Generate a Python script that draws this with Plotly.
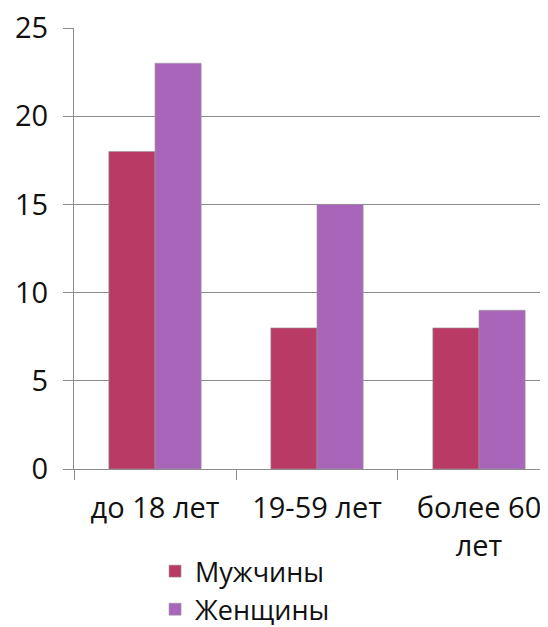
import plotly.graph_objects as go

categories = ["до 18 лет", "19-59 лет", "более 60<br>лет"]
men = [18, 8, 8]
women = [23, 15, 9]
series_names = ["Мужчины", "Женщины"]
y_ticks = [0, 5, 10, 15, 20, 25]

# page body has an 8px margin, so the figure is sized/offset to compensate
W, H = 540, 619
L, R, T, B = 66, 0, 20, 158

fig = go.Figure()
fig.add_trace(go.Bar(x=categories, y=men, name=series_names[0],
                     marker=dict(color="#B93B65", line=dict(color="#9a9a9a", width=0.6))))
fig.add_trace(go.Bar(x=categories, y=women, name=series_names[1],
                     marker=dict(color="#A865BA", line=dict(color="#9a9a9a", width=0.6))))

font = dict(family="Open Sans, DejaVu Sans, sans-serif", size=29, color="#111111")

fig.update_layout(
    width=W, height=H,
    margin=dict(l=L, r=R, t=T, b=B, pad=0, autoexpand=False),
    paper_bgcolor="white", plot_bgcolor="white",
    barmode="group", bargap=0.43, bargroupgap=0,
    font=font,
    showlegend=True,
    legend=dict(x=0.171, y=-0.177, xanchor="left", yanchor="top",
                orientation="v", font=dict(size=27, color="#111111"),
                bgcolor="rgba(0,0,0,0)", itemwidth=30, tracegroupgap=0),
    xaxis=dict(range=[-0.5, 2.426], showline=True, linecolor="#8c8c8c", linewidth=1,
               ticks="outside", tickson="boundaries", ticklen=10, tickcolor="#8c8c8c",
               showgrid=False, ticklabelstandoff=13, tickfont=font, tickangle=0,
               ticklabeloverflow="allow", automargin=False),
    yaxis=dict(range=[0, 25], tickvals=y_ticks, showline=True, linecolor="#8c8c8c",
               linewidth=1, ticks="outside", ticklen=10, tickcolor="#8c8c8c",
               showgrid=True, gridcolor="#8c8c8c", gridwidth=1, zeroline=False,
               ticklabelstandoff=9, tickfont=font, ticklabeloverflow="allow",
               automargin=False),
)

fig.write_html("out.html")
